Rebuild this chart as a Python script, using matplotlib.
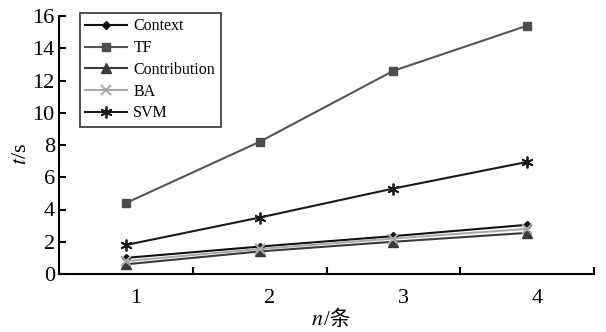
import matplotlib
matplotlib.use('Agg')
import matplotlib.pyplot as plt
import matplotlib.transforms as mtransforms
import numpy as np

plt.rcParams['font.family'] = ['Liberation Serif', 'Noto Sans CJK SC']
plt.rcParams['mathtext.fontset'] = 'stix'

n = [1, 2, 3, 4]
context = [1.0, 1.7, 2.35, 3.05]
tf = [4.4, 8.2, 12.6, 15.4]
contribution = [0.6, 1.4, 2.0, 2.55]
ba = [0.8, 1.55, 2.2, 2.8]
svm = [1.8, 3.5, 5.3, 6.95]

fig = plt.figure(figsize=(6.06, 3.32), dpi=100)
ax = fig.add_axes([59 / 606, 58 / 332, 535 / 606, 258 / 332])

ax.plot(n, context, color='#111111', lw=1.5, marker='D', ms=4.5, label='Context')
ax.plot(n, tf, color='#555555', lw=1.5, marker='s', ms=6, mfc='#4d4d4d', mec='#4d4d4d', label='TF')
ax.plot(n, contribution, color='#3a3a3a', lw=1.5, marker='^', ms=7, label='Contribution')
ax.plot(n, ba, color='#aaaaaa', lw=1.5, marker='x', ms=6.5, mew=1.5, label='BA')
ax.plot(n, svm, color='#1a1a1a', lw=1.5, marker=(6, 2, 0), ms=8.5, mew=1.3, label='SVM')

ax.set_xlim(0.5, 4.5)
ax.set_ylim(0, 16)
ax.set_yticks(np.arange(0, 17, 2))
ax.set_xticks(n)
ax.set_xticks([1.5, 2.5, 3.5, 4.5], minor=True)
ax.tick_params(axis='x', which='major', length=0, pad=11, labelsize=16)
ax.tick_params(axis='x', which='minor', direction='in', length=5, width=1.5)
ax.tick_params(axis='y', direction='in', length=5, width=1.5, labelsize=16, pad=3)
shift = mtransforms.ScaledTranslation(10 / 100, 0, fig.dpi_scale_trans)
for lbl in ax.get_xticklabels():
    lbl.set_transform(lbl.get_transform() + shift)
ax.spines['top'].set_visible(False)
ax.spines['right'].set_visible(False)
ax.spines['left'].set_linewidth(1.5)
ax.spines['bottom'].set_linewidth(1.5)

# axis titles
ax.text(-0.071, 0.465, '$t$/s', transform=ax.transAxes, rotation=90,
        ha='center', va='center', fontsize=16)
ax.text(0.495, -0.197, '$n$', transform=ax.transAxes, ha='right', va='baseline', fontsize=16)
ax.text(0.495, -0.197, '/条', transform=ax.transAxes, ha='left', va='baseline', fontsize=15,
        family=['Liberation Serif', 'Noto Sans CJK SC'])

leg = ax.legend(loc='upper left', bbox_to_anchor=(0.039, 1.012), borderaxespad=0,
                fontsize=11.5, frameon=True, fancybox=False, edgecolor='black',
                handlelength=2.6, labelspacing=0.36, borderpad=0.35, handletextpad=0.4)
leg.get_frame().set_linewidth(1.2)

fig.savefig('out.png', dpi=100)
